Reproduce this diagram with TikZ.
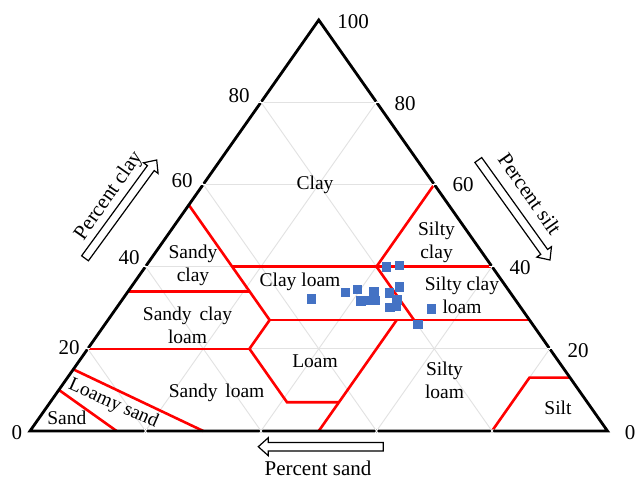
\documentclass[tikz,border=0pt]{standalone}
\usepackage{fontspec}
\setmainfont{Liberation Serif}
\usetikzlibrary{calc}
\definecolor{ptblue}{HTML}{4472C4}
\definecolor{gridgray}{HTML}{E2E2E2}
\newcommand{\blockarrow}[1]{%
  \coordinate (#1h) at ($(#1b)!10pt!(#1a)$);
  \draw[hollow] ($(#1a)!4.2pt!90:(#1b)$) -- ($(#1h)!4.2pt!90:(#1b)$) -- ($(#1h)!9pt!90:(#1b)$) -- (#1b)
     -- ($(#1h)!9pt!-90:(#1b)$) -- ($(#1h)!4.2pt!-90:(#1b)$) -- ($(#1a)!4.2pt!-90:(#1b)$) -- cycle;}
\begin{document}
\begin{tikzpicture}[x=1pt,y=-1pt,
  lbl/.style={font=\fontsize{19.5}{23.3}\selectfont, inner sep=0pt, align=center},
  num/.style={font=\fontsize{21}{23}\selectfont, inner sep=0pt},
  axt/.style={font=\fontsize{21}{23}\selectfont, inner sep=0pt},
  redline/.style={red, line width=2.6pt},
  gridline/.style={gridgray, line width=0.9pt},
  notch/.style={white, line width=0.9pt},
  datapt/.style={fill=ptblue, minimum size=9.8pt, inner sep=0pt, draw=none, rectangle},
  hollow/.style={draw=black, fill=white, line width=1.2pt, line join=miter}
]
\useasboundingbox (0,0) rectangle (635,477);
\fill[white] (0,0) rectangle (635,477);

\begin{scope}[shift={(30,431)}, x={(5.775pt,0pt)}, y={(2.8875pt,4.11pt)}]
  \foreach \k in {20,40,60,80}{
    \draw[gridline] (0,\k) -- ({100-\k},\k);
    \draw[gridline] (\k,0) -- (\k,{100-\k});
    \draw[gridline] ({100-\k},0) -- (0,{100-\k});
  }
  \draw[redline] (0,55) -- (28,27);
  \draw[redline] (15,40) -- (60,40);
  \draw[redline] (40,40) -- (40,60);
  \draw[redline] (0,34) -- (21,34);
  \draw[redline] (28,27) -- (73,27);
  \draw[redline] (40,40) -- (53,27);
  \draw[redline] (0,20) -- (28,20);
  \draw[redline] (28,20) -- (28,27);
  \draw[redline] (28,20) -- (41,7) -- (50,7);
  \draw[redline] (50,27) -- (50,0);
  \draw[redline] (0,15) -- (30,0);
  \draw[redline] (0,10) -- (15,0);
  \draw[redline] (80,0) -- (80,13) -- (87,13);
  \draw[line width=2.8pt, line join=miter] (0,0) coordinate (BL) -- (100,0) coordinate (BR) -- (0,100) coordinate (AP) -- cycle;
  % small white notches where the grid meets the frame
  \foreach \k in {20,40,60,80}{
    \draw[notch] (-0.45,\k) -- (0.45,\k);
    \draw[notch] ({100-\k-0.45},\k) -- ({100-\k+0.45},\k);
    \draw[notch] (\k,-0.45) -- (\k,0.45);
    \draw[notch] (\k,{100-\k-0.45}) -- (\k,{100-\k+0.45});
    \draw[notch] ({100-\k+0.45},-0.45) -- ({100-\k-0.45},0.45);
    \draw[notch] (0.45,{100-\k-0.45}) -- (-0.45,{100-\k+0.45});
  }
\end{scope}

% data points
\node[datapt] (p1) at (311.5,299) {};
\node[datapt] (p2) at (345.5,292.5) {};
\node[datapt] (p3) at (357.5,289.5) {};
\node[datapt] (p4) at (361,301) {};
\node[datapt] (p5) at (369,300.5) {};
\node[datapt] (p6) at (374,291.5) {};
\node[datapt] (p7) at (375,300.5) {};
\node[datapt] (p8) at (386.5,267) {};
\node[datapt] (p9) at (399.5,265.5) {};
\node[datapt] (p10) at (399.5,287) {};
\node[datapt] (p11) at (389.5,293) {};
\node[datapt] (p12) at (397,300) {};
\node[datapt] (p13) at (390,307.5) {};
\node[datapt] (p14) at (396.5,306.5) {};
\node[datapt] (p15) at (431.5,309) {};
\node[datapt] (p16) at (418,324.5) {};

% region labels
\node[lbl] (tClay) at (315,185) {Clay};
\node[lbl] (tSiltyClay) at (436.5,242) {Silty\\clay};
\node[lbl] (tSandyClay) at (193,265) {Sandy\\clay};
\node[lbl] (tClayLoam) at (300,282) {Clay loam};
\node[lbl] (tSiltyClayLoam) at (462,295) {Silty clay\\loam};
\node[lbl] (tSandyClayLoam) at (187.5,325) {Sandy\hspace{3pt} clay\\loam};
\node[lbl] (tLoam) at (315,361) {Loam};
\node[lbl] (tSiltyLoam) at (444.5,380) {Silty\\loam};
\node[lbl] (tSandyLoam) at (216.6,393) {Sandy\hspace{3pt} loam};
\node[lbl] (tSand) at (66.8,418.3) {Sand};
\node[lbl, rotate=-24] (tLoamySand) at (113.4,404) {Loamy sand};
\node[lbl] (tSilt) at (558,408.3) {Silt};

% tick numbers
\node[num] (n100) at (353,22) {100};
\node[num] (nl80) at (239,96) {80};
\node[num] (nr80) at (405,104) {80};
\node[num] (nl60) at (182,181) {60};
\node[num] (nr60) at (463,185) {60};
\node[num] (nl40) at (129,258) {40};
\node[num] (nr40) at (520,268) {40};
\node[num] (nl20) at (69,348) {20};
\node[num] (nr20) at (578,351) {20};
\node[num] (nl0) at (17,433) {0};
\node[num] (nr0) at (630,433) {0};

% axis arrows
\coordinate (caa) at (85,258.3); \coordinate (cab) at (156.7,160);
\blockarrow{ca}
\coordinate (saa) at (478.3,160); \coordinate (sab) at (550,260);
\blockarrow{sa}
\coordinate (daa) at (383.3,446.7); \coordinate (dab) at (258.3,446.7);
\blockarrow{da}

\node[axt, rotate=55] (tPclay) at (109,196) {Percent clay};
\node[axt, rotate=-55] (tPsilt) at (530,194) {Percent silt};
\node[axt] (tPsand) at (318,468) {Percent sand};
\end{tikzpicture}
\end{document}
